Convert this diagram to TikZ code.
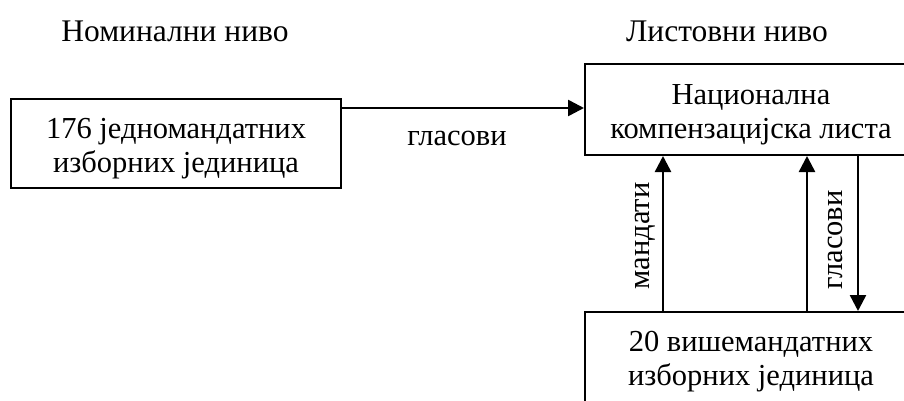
\documentclass[tikz,border=0pt]{standalone}
\usepackage{fontspec}
\setmainfont{Liberation Serif}
\usetikzlibrary{arrows.meta}
\newcommand{\upstrut}{\rule{0pt}{30pt}}
\begin{document}
\begin{tikzpicture}[x=1pt,y=-1pt,
  box/.style={draw,line width=2pt,rectangle,align=center,inner sep=0pt,font=\fontsize{30.5}{34}\selectfont},
  lbl/.style={font=\fontsize{30.5}{34}\selectfont,inner sep=0pt},
  head/.style={font=\fontsize{31.5}{36}\selectfont,inner sep=0pt},
  arr/.style={line width=2.5pt,-{Triangle[length=16pt,width=16pt]}}]
\useasboundingbox (0,0) rectangle (904,401);
\clip (0,0) rectangle (904,401);
\node[head,anchor=base] (h1) at (175,42) {Номинални ниво};
\node[head,anchor=base] (h2) at (727,42) {Листовни ниво};
\node[box,minimum width=330pt,minimum height=89pt] (L) at (176,143.5) {\upstrut176 једномандатних\\изборних јединица};
\node[box,minimum width=332pt,minimum height=91pt] (T) at (751,109.5) {\upstrut Национална\\компензацијска листа};
\node[box,minimum width=332pt,minimum height=90pt] (B) at (751,357) {\upstrut 20 вишемандатних\\изборних јединица};
\coordinate (s0) at ([yshift=-10pt]L.north east);
\draw[arr] (s0) -- (s0 -| T.west);
\node[lbl,anchor=base] (g0) at (457,146) {гласови};
\coordinate (a1) at (663,312);
\coordinate (a2) at (807,312);
\coordinate (a3) at (858,155);
\draw[arr] (a1) -- (a1 |- T.south);
\draw[arr] (a2) -- (a2 |- T.south);
\draw[arr] (a3) -- (a3 |- B.north);
\node[lbl,rotate=90] (m1) at (645,236) {мандати};
\node[lbl,rotate=90] (g1) at (835,240) {гласови};
\end{tikzpicture}
\end{document}
